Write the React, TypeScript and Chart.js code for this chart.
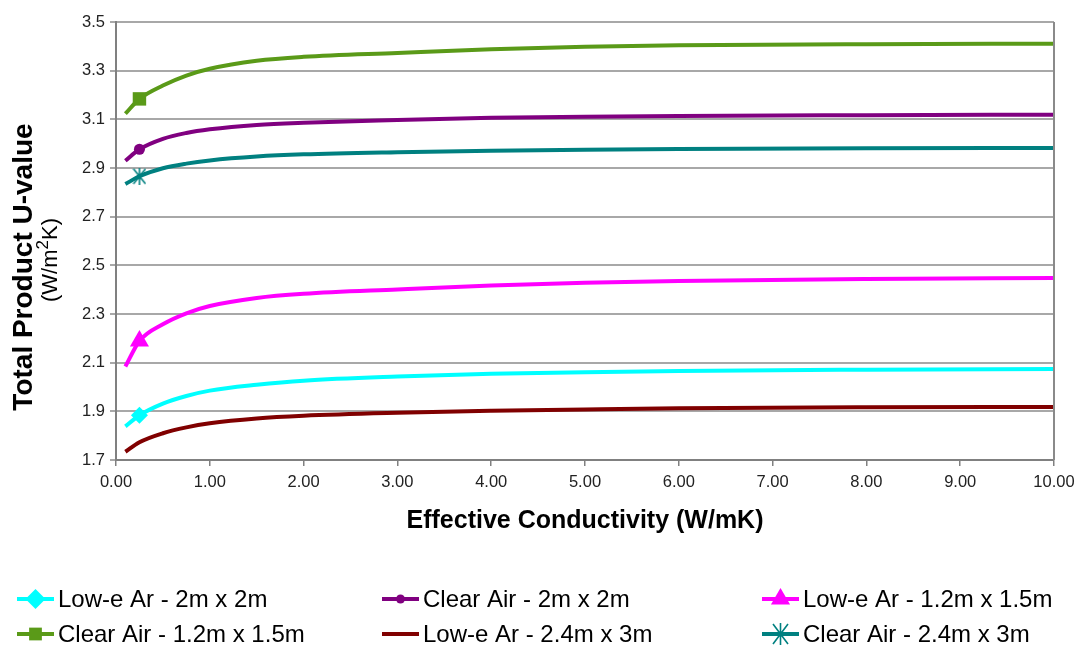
import React, { useEffect, useRef } from 'react';
import { Chart, registerables } from 'chart.js';

Chart.register(...registerables);

// ---- data ----
const xValues = [0.1, 0.25, 0.5, 0.75, 1, 1.5, 2, 3, 4, 5, 6, 8, 10];
const lowE2x2 = [1.838, 1.884, 1.932, 1.963, 1.985, 2.009, 2.026, 2.043, 2.054, 2.061, 2.066, 2.071, 2.074];
const clear2x2 = [2.93, 2.977, 3.02, 3.044, 3.059, 3.077, 3.086, 3.097, 3.106, 3.111, 3.114, 3.117, 3.119];
const lowE12x15 = [2.084, 2.189, 2.258, 2.303, 2.333, 2.366, 2.383, 2.401, 2.417, 2.428, 2.436, 2.444, 2.448];
const clear12x15 = [3.123, 3.184, 3.239, 3.28, 3.308, 3.341, 3.357, 3.373, 3.388, 3.398, 3.404, 3.409, 3.411];
const lowE24x3 = [1.734, 1.773, 1.81, 1.834, 1.851, 1.871, 1.882, 1.894, 1.902, 1.908, 1.913, 1.917, 1.918];
const clear24x3 = [2.834, 2.866, 2.899, 2.918, 2.931, 2.947, 2.956, 2.965, 2.971, 2.975, 2.978, 2.981, 2.982];

const seriesLabels = [
  'Low-e Ar - 2m x 2m',
  'Clear Air - 2m x 2m',
  'Low-e Ar - 1.2m x 1.5m',
  'Clear Air - 1.2m x 1.5m',
  'Low-e Ar - 2.4m x 3m',
  'Clear Air - 2.4m x 3m',
];
const xTicks = [0, 1, 2, 3, 4, 5, 6, 7, 8, 9, 10];
const yTicks = [1.7, 1.9, 2.1, 2.3, 2.5, 2.7, 2.9, 3.1, 3.3, 3.5];
const xTitle = 'Effective Conductivity (W/mK)';
const yTitle = 'Total Product U-value';
const yUnitParts = ['(W/m', '2', 'K)'];
const markerIndex = 1;

const FONT = "'Liberation Sans', Arial, Helvetica, sans-serif";

function makeStar(color: string, w: number, h: number, lw: number) {
  const c = document.createElement('canvas');
  c.width = w;
  c.height = h;
  const g = c.getContext('2d')!;
  g.strokeStyle = color;
  g.lineWidth = lw;
  g.beginPath();
  g.moveTo(1, 1);
  g.lineTo(w - 1, h - 1);
  g.moveTo(w - 1, 1);
  g.lineTo(1, h - 1);
  g.moveTo(w / 2, 0);
  g.lineTo(w / 2, h);
  g.stroke();
  return c;
}

type Mk = { style: string; color: string; r: number; lr: number };
const markers: Mk[] = [
  { style: 'rectRot', color: '#00FFFF', r: 8.5, lr: 10 },
  { style: 'circle', color: '#800080', r: 5.5, lr: 4.5 },
  { style: 'triangle', color: '#FF00FF', r: 11, lr: 11 },
  { style: 'rect', color: '#5A9A18', r: 9.5, lr: 8.5 },
  { style: 'none', color: '#800000', r: 0, lr: 0 },
  { style: 'star', color: '#008080', r: 8, lr: 9 },
];

function drawMarker(ctx: CanvasRenderingContext2D, m: Mk, x: number, y: number, star: HTMLCanvasElement) {
  const r = m.lr;
  ctx.save();
  ctx.fillStyle = m.color;
  ctx.strokeStyle = m.color;
  ctx.beginPath();
  if (m.style === 'rectRot') {
    ctx.moveTo(x - r, y);
    ctx.lineTo(x, y - r);
    ctx.lineTo(x + r, y);
    ctx.lineTo(x, y + r);
    ctx.closePath();
    ctx.fill();
  } else if (m.style === 'circle') {
    ctx.arc(x, y, r, 0, Math.PI * 2);
    ctx.fill();
  } else if (m.style === 'triangle') {
    ctx.moveTo(x, y - r);
    ctx.lineTo(x + r * 0.87, y + r * 0.5);
    ctx.lineTo(x - r * 0.87, y + r * 0.5);
    ctx.closePath();
    ctx.fill();
  } else if (m.style === 'rect') {
    const s = r * 0.75;
    ctx.fillRect(x - s, y - s, 2 * s, 2 * s);
  } else if (m.style === 'star') {
    ctx.drawImage(star, x - star.width / 2, y - star.height / 2);
  }
  ctx.restore();
}

export default function App() {
  const ref = useRef<HTMLCanvasElement>(null);
  useEffect(() => {
    document.body.style.margin = '0';
    const canvas = ref.current!;
    const plotStar = makeStar('#008080', 14, 17, 1.6);
    const legendStar = makeStar('#008080', 17, 22, 1.6);
    const seriesData = [lowE2x2, clear2x2, lowE12x15, clear12x15, lowE24x3, clear24x3];

    const datasets = seriesData.map((vals, i) => {
      const m = markers[i];
      return {
        label: seriesLabels[i],
        data: xValues.map((x, j) => ({ x, y: vals[j] })),
        borderColor: m.color,
        backgroundColor: m.color,
        borderWidth: 4,
        pointStyle: m.style === 'star' ? plotStar : m.style === 'none' ? 'circle' : m.style,
        pointRadius: xValues.map((_, j) => (j === markerIndex && m.style !== 'none' ? m.r : 0)),
        pointBorderWidth: 0,
        pointBackgroundColor: m.color,
        cubicInterpolationMode: 'monotone' as const,
        fill: false,
      };
    });

    const decor = {
      id: 'decor',
      afterDraw(chart: any) {
        const ctx: CanvasRenderingContext2D = chart.ctx;
        const a = chart.chartArea;
        ctx.save();
        // right border
        ctx.strokeStyle = '#8a8a8a';
        ctx.lineWidth = 2;
        ctx.beginPath();
        ctx.moveTo(a.right, a.top);
        ctx.lineTo(a.right, a.bottom);
        ctx.stroke();

        ctx.fillStyle = '#000';
        // x title
        ctx.font = `bold 25px ${FONT}`;
        ctx.textAlign = 'center';
        ctx.textBaseline = 'middle';
        ctx.fillText(xTitle, (a.left + a.right) / 2, 521);

        // y title
        ctx.save();
        ctx.translate(24, 267);
        ctx.rotate(-Math.PI / 2);
        ctx.font = `bold 28px ${FONT}`;
        ctx.fillText(yTitle, 0, 0);
        ctx.restore();

        ctx.save();
        ctx.translate(51, 260);
        ctx.rotate(-Math.PI / 2);
        ctx.textAlign = 'left';
        ctx.textBaseline = 'middle';
        const big = `22px ${FONT}`;
        const small = `17px ${FONT}`;
        ctx.font = big;
        const w0 = ctx.measureText(yUnitParts[0]).width;
        const w2 = ctx.measureText(yUnitParts[2]).width;
        ctx.font = small;
        const w1 = ctx.measureText(yUnitParts[1]).width;
        let x = -(w0 + w1 + w2) / 2;
        ctx.font = big;
        ctx.fillText(yUnitParts[0], x, 0);
        x += w0;
        ctx.font = small;
        ctx.fillText(yUnitParts[1], x, -8);
        x += w1;
        ctx.font = big;
        ctx.fillText(yUnitParts[2], x, 0);
        ctx.restore();

        // legend
        const cols = [17, 382, 762];
        const rows = [599, 634];
        ctx.font = `24px ${FONT}`;
        ctx.textAlign = 'left';
        ctx.textBaseline = 'middle';
        seriesLabels.forEach((lab, i) => {
          const cx = cols[i % 3];
          const cy = rows[Math.floor(i / 3)];
          const m = markers[i];
          ctx.strokeStyle = m.color;
          ctx.lineWidth = 4;
          ctx.beginPath();
          ctx.moveTo(cx, cy);
          ctx.lineTo(cx + 37, cy);
          ctx.stroke();
          drawMarker(ctx, m, cx + 18.5, cy, legendStar);
          ctx.fillStyle = '#000';
          ctx.fillText(lab, cx + 41, cy + 1);
        });
        ctx.restore();
      },
    };

    const chart = new Chart(canvas, {
      type: 'line',
      data: { datasets },
      plugins: [decor],
      options: {
        responsive: false,
        animation: false,
        devicePixelRatio: 1,
        layout: { padding: { top: 22, right: 21, left: 0, bottom: 0 } },
        plugins: { legend: { display: false }, tooltip: { enabled: false }, title: { display: false } },
        scales: {
          x: {
            type: 'linear',
            min: 0,
            max: 10,
            afterBuildTicks: (s: any) => {
              s.ticks = xTicks.map((v) => ({ value: v }));
            },
            afterFit: (s: any) => {
              s.height = 186;
              s.paddingRight = 0;
              s.paddingLeft = 0;
            },
            ticks: {
              callback: (v: any) => Number(v).toFixed(2),
              font: { family: FONT, size: 16.5 },
              color: '#222',
              padding: 7,
              maxRotation: 0,
            },
            grid: { drawOnChartArea: false, drawTicks: true, tickLength: 6, color: '#808080', lineWidth: 1.5 },
            border: { display: true, color: '#808080', width: 2 },
          },
          y: {
            type: 'linear',
            min: 1.7,
            max: 3.5,
            afterBuildTicks: (s: any) => {
              s.ticks = yTicks.map((v) => ({ value: v }));
            },
            afterFit: (s: any) => {
              s.width = 116;
            },
            ticks: {
              callback: (v: any) => Number(v).toFixed(1),
              font: { family: FONT, size: 16.5 },
              color: '#222',
              padding: 5,
            },
            grid: { color: '#a8a8a8', lineWidth: 2, drawTicks: true, tickLength: 6 },
            border: { display: true, color: '#808080', width: 2 },
          },
        },
      },
    });
    return () => chart.destroy();
  }, []);
  return <canvas ref={ref} width={1075} height={646} style={{ display: 'block' }} />;
}
